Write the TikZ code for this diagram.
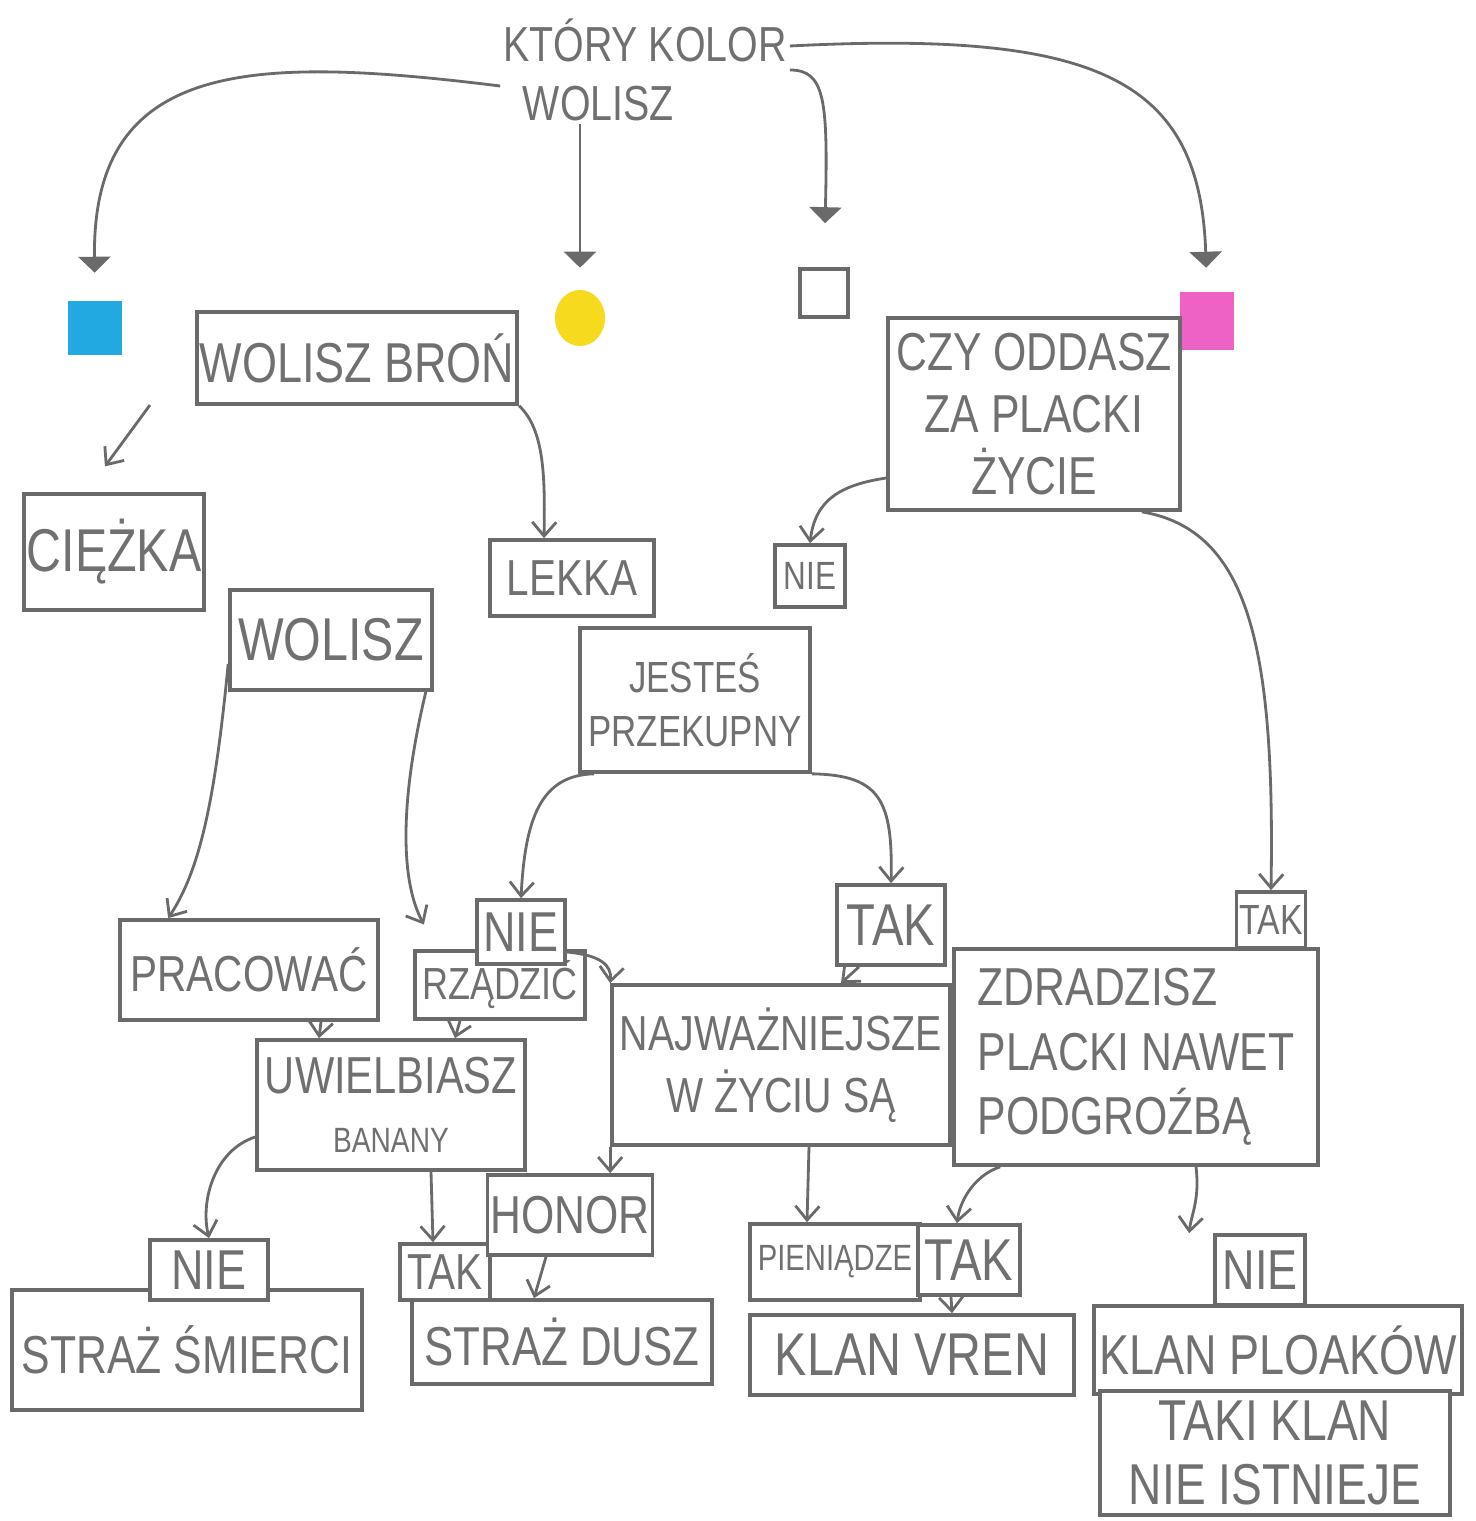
\documentclass[tikz,border=0pt]{standalone}
\usepackage{fontspec}
\setmainfont[FakeStretch=0.8]{Liberation Sans}
\usepackage{tikz}
\usetikzlibrary{arrows.meta,shapes.geometric}
\definecolor{kredka}{HTML}{6A6A6A}
\definecolor{pismo}{HTML}{707070}
\definecolor{kolniebieski}{HTML}{23A9E1}
\definecolor{kolzolty}{HTML}{F5DA1E}
\definecolor{kolrozowy}{HTML}{EE62C6}

\begin{document}
\begin{tikzpicture}[x=0.25mm,y=-0.25mm,
  ramka/.style={draw=kredka,fill=white,line width=2.6pt,text=pismo,inner sep=2pt,align=center},
  rozm/.style 2 args={font=\fontsize{#1}{#2}\selectfont},
  strz/.style={draw=kredka,line width=2pt,-{Straight Barb[length=3.5mm,width=6mm]}},
  strzgora/.style={draw=kredka,line width=2pt,-{Triangle[length=4mm,width=8mm]}}]
  \useasboundingbox (0,0) rectangle (1476,1521);

  \node[text=pismo,align=left,inner sep=2pt,rozm={35}{42}] (pytanie) at (645,70) {KTÓRY KOLOR\\\hspace{0.4em}WOLISZ};

  \node[fill=kolniebieski,minimum size=13.5mm,inner sep=0pt] (niebieski) at (95,328) {};
  \node[fill=kolzolty,ellipse,minimum width=12.5mm,minimum height=14mm,inner sep=0pt] (zolty) at (580,318) {};
  \node[draw=kredka,line width=2.6pt,minimum size=12mm,inner sep=0pt] (bialy) at (824,293) {};
  \node[fill=kolrozowy,minimum width=13.5mm,minimum height=14.5mm,inner sep=0pt] (rozowy) at (1207,321) {};

  \node[ramka,rozm={40}{46},minimum width=80mm,minimum height=23mm] (bron) at (357,358) {WOLISZ BROŃ};
  \node[ramka,rozm={43}{48},minimum width=44.5mm,minimum height=29mm] (ciezka) at (114,552) {CIĘŻKA};
  \node[ramka,rozm={36}{42},minimum width=41mm,minimum height=19mm] (lekka) at (572,578) {LEKKA};
  \node[ramka,rozm={38}{44},minimum width=73mm,minimum height=48mm] (oddasz) at (1034,414) {CZY ODDASZ\\ZA PLACKI\\ŻYCIE};
  \node[ramka,rozm={28}{32},minimum width=17.5mm,minimum height=15.5mm] (nieA) at (810,576) {NIE};
  \node[ramka,rozm={30}{34},minimum width=17mm,minimum height=14mm] (takA) at (1271,920) {TAK};
  \node[ramka,rozm={43}{48},minimum width=50.5mm,minimum height=25mm] (wolisz) at (331,640) {WOLISZ};
  \node[ramka,rozm={31}{38},minimum width=57.5mm,minimum height=36mm] (przekupny) at (695,700) {JESTEŚ\\PRZEKUPNY};
  \node[ramka,rozm={36}{42},minimum width=64.5mm,minimum height=25mm] (pracowac) at (249,970) {PRACOWAĆ};
  \node[ramka,rozm={32}{36},minimum width=42.5mm,minimum height=17mm] (rzadzic) at (500,985) {RZĄDZIĆ};
  \node[ramka,rozm={40}{44},minimum width=22mm,minimum height=16mm] (nieB) at (521,932) {NIE};
  \node[ramka,rozm={42}{46},minimum width=27mm,minimum height=20mm] (takB) at (891,925) {TAK};
  \node[ramka,rozm={35}{44},minimum width=84.5mm,minimum height=40mm] (najwazniejsze) at (781,1065) {NAJWAŻNIEJSZE\\W ŻYCIU SĄ};
  \node[ramka,rozm={37}{42},minimum width=67mm,minimum height=32.5mm] (banany) at (391,1105) {UWIELBIASZ\\{\fontsize{25}{30}\selectfont BANANY}};
  \node[ramka,rozm={38}{46},align=left,minimum width=91mm,minimum height=54mm] (zdradzisz) at (1136,1057) {ZDRADZISZ\\PLACKI NAWET\\PODGROŹBĄ};

  \node[ramka,rozm={38}{44},minimum width=87.5mm,minimum height=30mm] (smierci) at (187,1350) {STRAŻ ŚMIERCI};
  \node[ramka,rozm={39}{44},minimum width=75mm,minimum height=21mm] (dusz) at (562,1342) {STRAŻ DUSZ};
  \node[ramka,rozm={43}{48},minimum width=81mm,minimum height=20mm] (vren) at (912,1355) {KLAN VREN};
  \node[ramka,rozm={40}{46},minimum width=92mm,minimum height=22mm] (placki) at (1278,1350) {KLAN PLOAKÓW};
  \node[ramka,rozm={41}{45},minimum width=87.5mm,minimum height=31mm] (nieistnieje) at (1275,1453) {TAKI KLAN\\NIE ISTNIEJE};
  \node[ramka,rozm={40}{44},minimum width=29.5mm,minimum height=15mm] (nieC) at (209,1270) {NIE};
  \node[ramka,rozm={36}{40},minimum width=22.5mm,minimum height=14mm] (takC) at (445,1272) {TAK};
  \node[ramka,rozm={38}{44},minimum width=41mm,minimum height=20mm] (honor) at (570,1215) {HONOR};
  \node[ramka,rozm={26}{30},minimum width=42.5mm,minimum height=19mm] (pieniadze) at (835,1262) {PIENIĄDZE};
  \node[ramka,rozm={42}{46},minimum width=25.5mm,minimum height=17.5mm] (takD) at (969,1260) {TAK};
  \node[ramka,rozm={40}{44},minimum width=22.5mm,minimum height=17.5mm] (nieD) at (1260,1270) {NIE};

  \draw[strzgora,shorten >=7mm] ([yshift=-4mm]pytanie.west) .. controls (250,55) and (92,60) .. (niebieski.north);
  \draw[strzgora,shorten >=5.5mm] (zolty |- pytanie.south) -- (zolty.north);
  \draw[strzgora,shorten >=11mm] (pytanie.east) .. controls (825,70) and (828,100) .. (bialy.north);
  \draw[strzgora,shorten >=6mm] ([yshift=6mm]pytanie.east) .. controls (1100,30) and (1200,80) .. (rozowy.north);

  \coordinate (ukos) at (150,405);
  \draw[strz,shorten >=8mm] (ukos) -- ([xshift=16mm]ciezka.north west);
  \draw[strz] (bron.south east) .. controls (545,430) and (545,480) .. ([xshift=-7mm]lekka.north);
  \draw[strz] ([yshift=-16mm]oddasz.west) .. controls (840,485) and (815,500) .. (nieA.north);
  \draw[strz] ([xshift=-10mm]oddasz.south east) .. controls (1250,530) and (1275,650) .. (takA.north);
  \draw[strz] ([yshift=-6mm]wolisz.west) .. controls (215,800) and (200,870) .. ([xshift=12.5mm]pracowac.north west);
  \draw[strz,shorten >=7mm] ([xshift=-2mm]wolisz.south east) .. controls (400,800) and (400,880) .. ([xshift=6mm]rzadzic.north west);
  \draw[strz] ([xshift=4mm]przekupny.south west) .. controls (540,775) and (525,820) .. (nieB.north);
  \draw[strz] (przekupny.south east) .. controls (880,775) and (893,800) .. (takB.north);
  \draw[strz] ([yshift=-5mm]nieB.east) .. controls (600,955) and (612,965) .. (najwazniejsze.north west);
  \draw[strz] ([xshift=-8mm]takB.south) -- ([xshift=15mm]najwazniejsze.north);
  \draw[strz] (najwazniejsze.south west) -- (honor.north east -| najwazniejsze.south west);
  \draw[strz] ([xshift=7mm]najwazniejsze.south) -- ([xshift=-7mm]pieniadze.north);
  \draw[strz] ([xshift=18mm]pracowac.south) -- ([xshift=-18mm]banany.north);
  \draw[strz] ([xshift=-10mm]rzadzic.south) -- ([xshift=16mm]banany.north);
  \draw[strz] ([yshift=-8mm]banany.west) .. controls (215,1150) and (200,1200) .. (nieC.north);
  \draw[strz] ([xshift=10mm]banany.south) -- ([xshift=-3mm]takC.north);
  \draw[strz] ([xshift=-6mm]honor.south) -- ([xshift=-7mm]dusz.north);
  \draw[strz] ([xshift=12mm]zdradzisz.south west) .. controls (975,1175) and (960,1200) .. ([xshift=-3mm]takD.north);
  \draw[strz] ([xshift=15mm]zdradzisz.south) .. controls (1200,1200) and (1191,1215) .. ([xshift=-6mm]nieD.north west);
  \draw[strz] ([xshift=-4.5mm]takD.south) -- ([xshift=10mm]vren.north);
\end{tikzpicture}
\end{document}
